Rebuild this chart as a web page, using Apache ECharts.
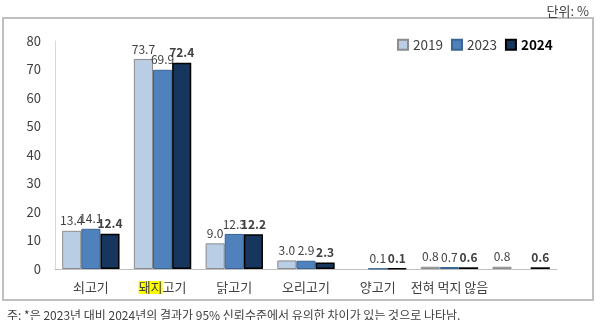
<!DOCTYPE html>
<html>
<head>
<meta charset="utf-8">
<script src="https://cdn.jsdelivr.net/npm/echarts@6/dist/echarts.min.js"></script>
<style>
  html, body { margin: 0; padding: 0; background: #fff; }
  #chart { width: 600px; height: 320px; }
</style>
</head>
<body>
<div id="chart"></div>
<script>
// 데이터
const categories = ['쇠고기', '돼지고기', '닭고기', '오리고기', '양고기', '전혀 먹지 않음', ''];
const seriesNames = ['2019', '2023', '2024'];
const values2019 = [13.4, 73.7, 9.0, 3.0, null, 0.8, 0.8];
const values2023 = [14.1, 69.9, 12.3, 2.9, 0.1, 0.7, null];
const values2024 = [12.4, 72.4, 12.2, 2.3, 0.1, 0.6, 0.6];
const yTicks = [0, 10, 20, 30, 40, 50, 60, 70, 80];

const chart = echarts.init(document.getElementById('chart'));
const FONT = '"Noto Sans CJK KR", "Noto Sans", sans-serif';

const makeSeries = (name, data, color, border, borderW, bold) => ({
  name: name,
  type: 'bar',
  data: data,
  barGap: '0%',
  barCategoryGap: '20%',
  itemStyle: { color: color, borderColor: border, borderWidth: borderW },
  label: {
    show: true,
    position: 'top',
    distance: 4,
    fontFamily: FONT,
    fontSize: 12,
    color: '#404040',
    fontWeight: bold ? 'bold' : 'normal',
    formatter: p => (p.value == null ? '' : Number(p.value).toFixed(1))
  }
});

const option = {
  animation: false,
  textStyle: { fontFamily: FONT },
  title: [
    {
      text: '단위: %',
      right: 6,
      top: 0,
      textStyle: { fontFamily: FONT, fontSize: 13, fontWeight: 'normal', color: '#404040' }
    },
    {
      text: '주: *은 2023년 대비 2024년의 결과가 95% 신뢰수준에서 유의한 차이가 있는 것으로 나타남.',
      left: 2,
      top: 304,
      textStyle: { fontFamily: FONT, fontSize: 12, fontWeight: 'normal', color: '#404040' }
    }
  ],
  graphic: [
    {
      type: 'rect',
      shape: { x: 3, y: 18, width: 590, height: 282 },
      style: { fill: 'none', stroke: '#bfbfbf', lineWidth: 2 },
      z: -1
    }
  ],
  legend: {
    left: 392,
    top: 33,
    icon: 'rect',
    itemWidth: 10,
    itemHeight: 10,
    itemGap: 8,
    textStyle: { fontFamily: FONT, fontSize: 13.5, color: '#404040', padding: [0, 0, 0, 0] },
    data: [
      { name: '2019' },
      { name: '2023' },
      { name: '2024', textStyle: { fontWeight: 'bold', color: '#000' } }
    ]
  },
  grid: { left: 55, right: 43, top: 41, bottom: 51 },
  xAxis: {
    type: 'category',
    data: categories,
    axisLine: { lineStyle: { color: '#bfbfbf' } },
    axisTick: { show: false },
    axisLabel: {
      interval: 0,
      margin: 12,
      fontFamily: FONT,
      fontSize: 13,
      color: '#404040',
      formatter: v => (v === '돼지고기' ? '{hl|돼지}고기' : v),
      rich: {
        hl: { backgroundColor: '#ffff00', fontFamily: FONT, fontSize: 13, color: '#404040' }
      }
    }
  },
  yAxis: {
    type: 'value',
    min: yTicks[0],
    max: yTicks[yTicks.length - 1],
    interval: 10,
    axisLine: { show: true, lineStyle: { color: '#d9d9d9' } },
    axisTick: { show: false },
    splitLine: { show: false },
    axisLabel: { margin: 14, fontFamily: FONT, fontSize: 13, color: '#404040' }
  },
  series: [
    makeSeries(seriesNames[0], values2019, '#b9cde5', '#8c8c8c', 1, false),
    makeSeries(seriesNames[1], values2023, '#4f81bd', '#3a6592', 1, false),
    makeSeries(seriesNames[2], values2024, '#17365d', '#000000', 1.5, true)
  ]
};

chart.setOption(option);
</script>
</body>
</html>
